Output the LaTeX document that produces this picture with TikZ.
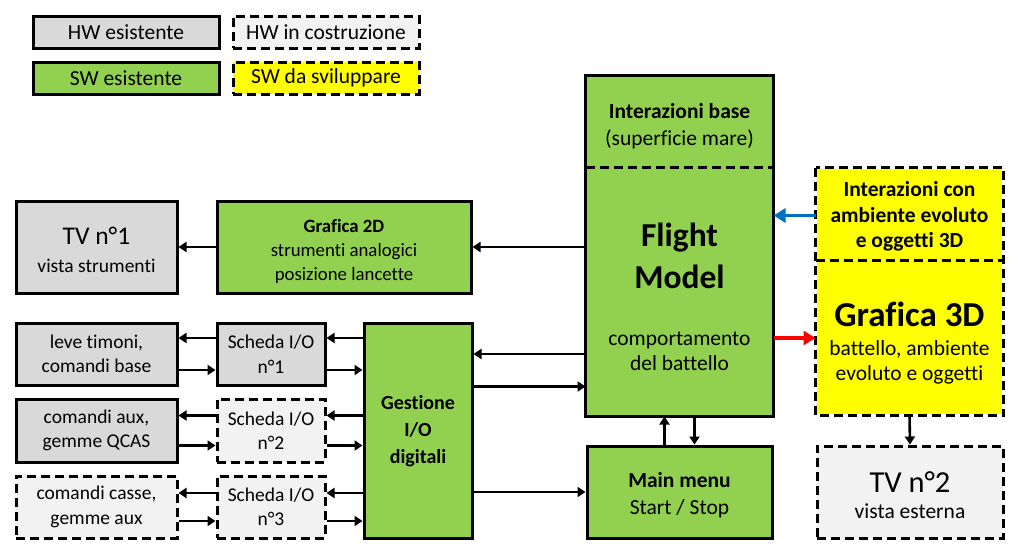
\documentclass[tikz,border=0pt]{standalone}
\usepackage{fontspec}
\setmainfont{Carlito}[Ligatures=CommonOff]
\usetikzlibrary{arrows.meta,calc}
\definecolor{hwgray}{HTML}{D9D9D9}
\definecolor{hwlight}{HTML}{F2F2F2}
\definecolor{swgreen}{HTML}{92D050}
\definecolor{swyellow}{HTML}{FFFF00}
\definecolor{arrblue}{HTML}{0070C0}
\definecolor{arrred}{HTML}{FF0000}
\begin{document}
\begin{tikzpicture}[x=1pt,y=-1pt,
  box/.style={draw=black,line width=3pt,align=center,inner sep=0pt,font=\fontsize{19.5}{24.5}\selectfont},
  bigf/.style={font=\fontsize{21.5}{25.5}\selectfont},
  txt/.style={align=center,inner sep=0pt,font=\fontsize{19.5}{24.5}\selectfont},
  dsh/.style={dash pattern=on 9pt off 5pt},
  hwe/.style={box,fill=hwgray},
  hwc/.style={box,fill=hwlight,dsh},
  swe/.style={box,fill=swgreen},
  swd/.style={box,fill=swyellow,dsh},
  sz/.style 2 args={minimum width=#1pt,minimum height=#2pt},
  arr/.style={line width=2.6pt,-{Triangle[length=8pt,width=10pt]}},
  bigarr/.style={line width=3.5pt,-{Triangle[length=12pt,width=14pt]}},
]
\useasboundingbox[fill=white] (0,0) rectangle (1024,555);

% legend
\node[hwe,bigf,sz={186}{32}] (lg1) at (126,32) {HW esistente};
\node[hwc,bigf,sz={186}{32}] (lg2) at (326,32) {HW in costruzione};
\node[swe,bigf,sz={186}{32}] (lg3) at (126,78) {SW esistente};
\node[swd,bigf,sz={186}{32}] (lg4) at (326,78) {SW da sviluppare};

% top row
\node[hwe,sz={161}{92}] (tv1) at (96.5,247) {};
\node[txt] (tv1txt) at ([yshift=-3pt]tv1.center) {{\fontsize{25.5}{30}\selectfont TV n°1}\\[3pt]vista strumenti};
\node[swe,sz={254}{92}] (g2d) at (344,247) {};
\node[txt,font=\fontsize{18.8}{24}\selectfont] (g2dtxt) at ([yshift=-4pt]g2d.center) {\textbf{Grafica 2D}\\strumenti analogici\\posizione lancette};

% flight model
\node[swe,draw=none,sz={185}{92}] (ftop) at (679.5,123) {};
\node[txt,bigf] (ftoptxt) at ([yshift=-3pt]ftop.center) {\textbf{Interazioni base}\\[2pt](superficie mare)};
\node[swe,draw=none,sz={185}{246}] (fbot) at (679.5,292) {};
\node[txt,bigf] (fmtxt) at ([yshift=-5pt]fbot.center) {{\fontsize{33.5}{38}\selectfont\bfseries Flight}\\[12pt]{\fontsize{33.5}{38}\selectfont\bfseries Model}\\[31pt]comportamento\\del battello};
\draw[line width=3pt] (ftop.north west) rectangle (fbot.south east);
\draw[line width=2.5pt,dsh] (fbot.north west) -- (fbot.north east);

% yellow block
\node[swe,fill=swyellow,draw=none,sz={185}{93}] (ytop) at (909.5,215.5) {};
\node[txt,bigf] (ytoptxt) at ([yshift=-1pt]ytop.center) {\textbf{Interazioni con}\\\textbf{ambiente evoluto}\\\textbf{e oggetti 3D}};
\node[swe,fill=swyellow,draw=none,sz={185}{152}] (ybot) at (909.5,338) {};
\node[txt,bigf] (g3dtxt) at ([yshift=-5.5pt]ybot.center) {{\fontsize{35}{40}\selectfont\bfseries Grafica 3D}\\[3pt]battello, ambiente\\evoluto e oggetti};
\draw[line width=3pt,dsh] (ytop.north west) rectangle (ybot.south east);
\draw[line width=2.5pt,dsh] (ybot.north west) -- (ybot.north east);

% main menu and TV2
\node[swe,sz={185}{92}] (mm) at (679.5,492) {};
\node[txt,bigf] (mmtxt) at ([yshift=-3pt]mm.center) {\textbf{Main menu}\\[1pt]Start / Stop};
\node[hwc,sz={186}{92}] (tv2) at (910,492) {};
\node[txt,bigf] (tv2txt) at ([yshift=-3pt]tv2.center) {{\fontsize{30.5}{34}\selectfont TV n°2}\\[1pt]vista esterna};

% I/O rows
\node[hwe,sz={161}{62}] (leve) at (96.5,354) {leve timoni,\\comandi base};
\node[hwe,sz={108}{62}] (sch1) at (271,354) {Scheda I/O\\n°1};
\node[hwe,sz={161}{63}] (aux) at (96.5,430.5) {comandi aux,\\gemme QCAS};
\node[hwc,sz={108}{63}] (sch2) at (271,430.5) {Scheda I/O\\n°2};
\node[hwc,sz={161}{62}] (casse) at (96.5,507) {comandi casse,\\gemme aux};
\node[hwc,sz={108}{62}] (sch3) at (271,507) {Scheda I/O\\n°3};
\node[swe,sz={108}{215}] (gest) at (418,430.5) {};
\node[txt,font=\fontsize{20}{26}\selectfont] (gesttxt) at ([yshift=-1pt]gest.center) {\textbf{Gestione}\\[1pt]\textbf{I/O}\\[1pt]\textbf{digitali}};

% connectors
\draw[arr] (fbot.west |- g2d.east) -- (g2d.east);
\draw[arr] (g2d.west) -- (tv1.east);

\draw[arr] ($(sch1.west)+(0,-16)$) -- ($(leve.east)+(0,-16)$);
\draw[arr] ($(leve.east)+(0,16)$) -- ($(sch1.west)+(0,16)$);
\draw[arr] ($(sch1.east -| gest.west)+(0,-16)$) -- ($(sch1.east)+(0,-16)$);
\draw[arr] ($(sch1.east)+(0,16)$) -- ($(sch1.east -| gest.west)+(0,16)$);

\draw[arr] ($(sch2.west)+(0,-15)$) -- ($(aux.east)+(0,-15)$);
\draw[arr] ($(aux.east)+(0,15)$) -- ($(sch2.west)+(0,15)$);
\draw[arr] ($(sch2.east -| gest.west)+(0,-15)$) -- ($(sch2.east)+(0,-15)$);
\draw[arr] ($(sch2.east)+(0,15)$) -- ($(sch2.east -| gest.west)+(0,15)$);

\draw[arr] ($(sch3.west)+(0,-14)$) -- ($(casse.east)+(0,-14)$);
\draw[arr] ($(casse.east)+(0,14)$) -- ($(sch3.west)+(0,14)$);
\draw[arr] ($(sch3.east -| gest.west)+(0,-14)$) -- ($(sch3.east)+(0,-14)$);
\draw[arr] ($(sch3.east)+(0,14)$) -- ($(sch3.east -| gest.west)+(0,14)$);

\draw[arr] (sch1.east -| fbot.west) -- (sch1.east -| gest.east);
\draw[arr] (sch1.south -| gest.east) -- (sch1.south -| fbot.west);
\draw[arr] (mm.west -| gest.east) -- (mm.west);

\draw[arr] ($(mm.north)+(-15,0)$) -- ($(fbot.south)+(-15,0)$);
\draw[arr] ($(fbot.south)+(15,0)$) -- ($(mm.north)+(15,0)$);

\draw[bigarr,draw=arrblue] (ytop.west) -- (ytop.west -| fbot.east);
\draw[bigarr,draw=arrred] (fbot.east |- ybot.west) -- (ybot.west);
\draw[arr] (ybot.south) -- (tv2.north);
\end{tikzpicture}
\end{document}
